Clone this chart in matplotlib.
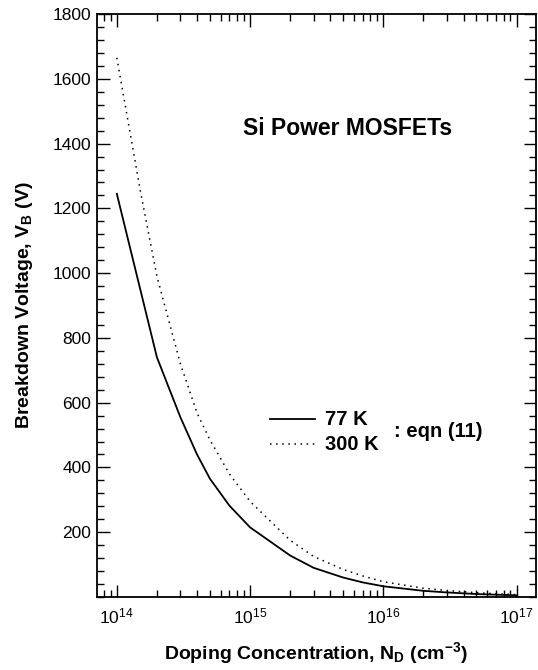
import numpy as np
import matplotlib
matplotlib.use("Agg")
import matplotlib.pyplot as plt
from matplotlib.ticker import LogLocator, MultipleLocator, FixedLocator, NullFormatter

plt.rcParams["font.family"] = ["Liberation Sans", "DejaVu Sans"]
plt.rcParams["mathtext.fontset"] = "custom"
plt.rcParams["mathtext.rm"] = "Liberation Sans"
plt.rcParams["mathtext.bf"] = "Liberation Sans:bold"
plt.rcParams["mathtext.it"] = "Liberation Sans:italic"

# doping concentration (cm^-3)
doping = [1e14, 1.5e14, 2e14, 3e14, 4e14, 5e14, 7e14, 1e15, 2e15, 3e15,
          5e15, 7e15, 1e16, 2e16, 3e16, 5e16, 1e17]
# breakdown voltage (V)
vb_77k = [1245, 990, 740, 555, 440, 365, 282, 215, 128, 90,
          60, 45, 33, 19, 14, 9, 5]
vb_300k = [1665, 1255, 990, 720, 568, 485, 380, 295, 175, 125,
           85, 65, 47, 27, 20, 13, 7]

y_ticks = [200, 400, 600, 800, 1000, 1200, 1400, 1600, 1800]

fig = plt.figure(figsize=(5.38, 6.70), dpi=100)
ax = fig.add_axes([0.1803, 0.109, 0.816, 0.870])

# the 77 K curve is drawn as straight segments between the computed points
ax.plot(doping[:1] + doping[2:], vb_77k[:1] + vb_77k[2:], color="black", lw=1.3)
ax.plot(doping, vb_300k, color="black", lw=1.1, ls=(0, (1, 3)))

ax.set_xscale("log")
ax.set_xlim(7.1e13, 1.4e17)
ax.set_ylim(0, 1800)

ax.xaxis.set_major_locator(FixedLocator([1e14, 1e15, 1e16, 1e17]))
ax.xaxis.set_minor_locator(LogLocator(base=10, subs=np.arange(2, 10)))
ax.xaxis.set_minor_formatter(NullFormatter())
ax.set_xticklabels([r"$\mathregular{10^{14}}$", r"$\mathregular{10^{15}}$",
                    r"$\mathregular{10^{16}}$", r"$\mathregular{10^{17}}$"])

ax.yaxis.set_major_locator(FixedLocator(y_ticks))
ax.yaxis.set_minor_locator(MultipleLocator(40))

ax.tick_params(which="both", direction="in", top=True, right=True,
               labelsize=12.5, width=1.0)
ax.tick_params(which="major", length=9)
ax.tick_params(which="minor", length=5)
ax.tick_params(axis="x", which="major", pad=7)
ax.tick_params(axis="y", which="major", pad=4)
for s in ax.spines.values():
    s.set_linewidth(1.3)

ax.set_xlabel(r"Doping Concentration, N$_\mathbf{D}$ (cm$^\mathbf{-3}$)",
              fontsize=14, fontweight="bold", labelpad=10)
ax.set_ylabel(r"Breakdown Voltage, V$_\mathbf{B}$ (V)",
              fontsize=14, fontweight="bold", labelpad=13)

ax.text(0.571, 0.804, "Si Power MOSFETs", transform=ax.transAxes,
        fontsize=16.5, fontweight="bold", ha="center", va="center")

# legend drawn by hand to match the original layout
ax.plot([0.393, 0.496], [0.305, 0.305], transform=ax.transAxes,
        color="black", lw=1.3)
ax.plot([0.393, 0.496], [0.263, 0.263], transform=ax.transAxes,
        color="black", lw=1.1, ls=(0, (1, 3)))
ax.text(0.52, 0.305, "77 K", transform=ax.transAxes, fontsize=14.5,
        fontweight="bold", va="center")
ax.text(0.52, 0.262, "300 K", transform=ax.transAxes, fontsize=14.5,
        fontweight="bold", va="center")
ax.text(0.677, 0.284, ": eqn (11)", transform=ax.transAxes, fontsize=14.5,
        fontweight="bold", va="center")

plt.savefig("out.png", dpi=100)
plt.close()
